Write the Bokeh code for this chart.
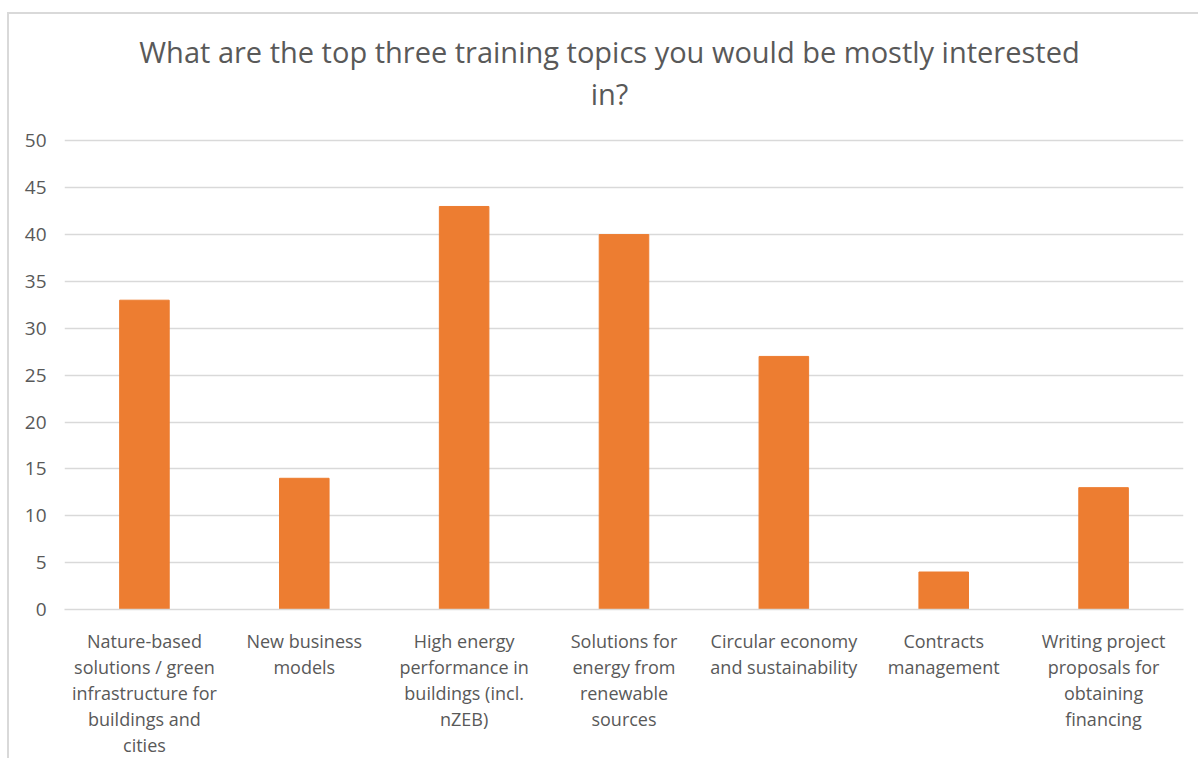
from bokeh.plotting import figure
from bokeh.models import FactorRange, Range1d, FixedTicker, Label, ColumnDataSource
from bokeh.embed import file_html
from bokeh.resources import INLINE

title_text = "What are the top three training topics you would be mostly interested\nin?"
categories = [
    "Nature-based\nsolutions / green\ninfrastructure for\nbuildings and\ncities",
    "New business\nmodels",
    "High energy\nperformance in\nbuildings (incl.\nnZEB)",
    "Solutions for\nenergy from\nrenewable\nsources",
    "Circular economy\nand sustainability",
    "Contracts\nmanagement",
    "Writing project\nproposals for\nobtaining\nfinancing",
]
values = [33, 14, 43, 40, 27, 4, 13]
y_ticks = [0, 5, 10, 15, 20, 25, 30, 35, 40, 45, 50]
y_max = 50

TXT = "#595959"
GRID = "#d9d9d9"
FONT = "Open Sans"
W, H = 1191, 746
TOP = 127          # space above the value area (title zone)
FH = 471           # height of the 0..50 value area
BOTTOM = 148

src = ColumnDataSource(dict(cat=categories, val=values))

# the frame is extended upward over the title zone so the title is not clipped
y_end = y_max * (FH + TOP) / FH
p = figure(x_range=FactorRange(*categories, range_padding=0), y_range=Range1d(0, y_end),
           width=W, height=H, output_backend="svg", toolbar_location=None,
           min_border_left=55, min_border_right=17, min_border_top=0, min_border_bottom=BOTTOM)
p.outline_line_color = None
p.background_fill_color = "white"
p.border_fill_color = "white"
p.styles = {"border-left": f"2px solid {GRID}", "border-top": f"2px solid {GRID}",
            "margin-left": "7px", "margin-top": "12px"}

p.vbar(x="cat", top="val", width=0.31, color="#ED7D31", source=src)

p.xgrid.visible = False
p.ygrid.ticker = FixedTicker(ticks=y_ticks)
p.ygrid.grid_line_color = GRID
p.ygrid.grid_line_width = 1.5

p.yaxis.ticker = FixedTicker(ticks=y_ticks)
p.yaxis.axis_line_color = None
p.yaxis.major_tick_line_color = None
p.yaxis.minor_tick_line_color = None
p.yaxis.major_label_text_font = FONT
p.yaxis.major_label_text_font_size = "19px"
p.yaxis.major_label_text_color = TXT
p.yaxis.major_label_standoff = 12

p.xaxis.axis_line_color = GRID
p.xaxis.axis_line_width = 1.5
p.xaxis.major_tick_line_color = None
p.xaxis.minor_tick_line_color = None
p.xaxis.major_label_text_font = FONT
p.xaxis.major_label_text_font_size = "18px"
p.xaxis.major_label_text_color = TXT
p.xaxis.major_label_text_line_height = 1.09
p.xaxis.major_label_standoff = 13

# screen units are relative to the plot frame (origin: frame bottom-left)
title = Label(x=545, y=FH + TOP - 61, x_units="screen", y_units="screen", text=title_text,
              text_align="center", text_baseline="middle", text_font=FONT,
              text_font_size="29px", text_color=TXT, text_line_height=1.067)
p.add_layout(title)

open("out.html", "w").write(file_html(p, INLINE))
